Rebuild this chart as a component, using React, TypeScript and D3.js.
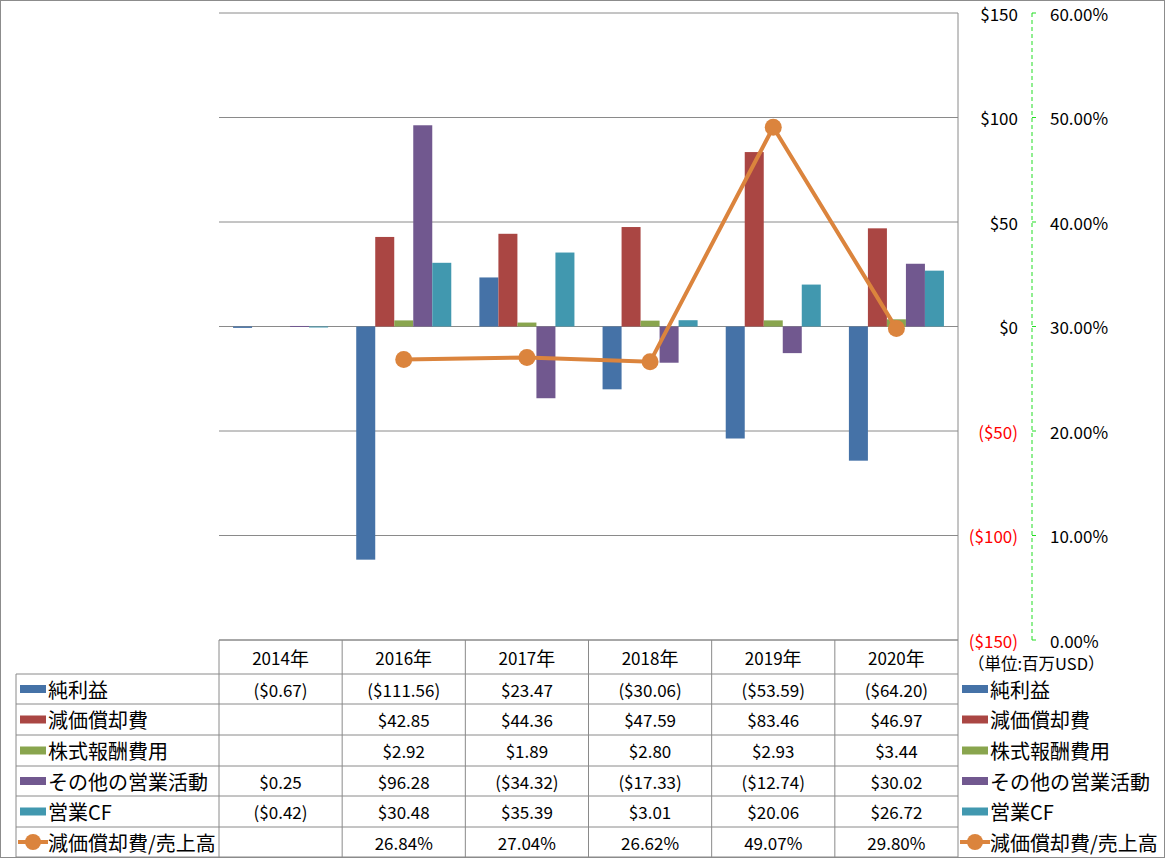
import React from 'react';
import * as d3 from 'd3';

const categories = ['2014年', '2016年', '2017年', '2018年', '2019年', '2020年'];
const seriesNames = ['純利益', '減価償却費', '株式報酬費用', 'その他の営業活動', '営業CF'];
const netIncome = [-0.67, -111.56, 23.47, -30.06, -53.59, -64.2];
const depreciation = [null, 42.85, 44.36, 47.59, 83.46, 46.97];
const stockComp = [null, 2.92, 1.89, 2.8, 2.93, 3.44];
const otherOps = [0.25, 96.28, -34.32, -17.33, -12.74, 30.02];
const operatingCF = [-0.42, 30.48, 35.39, 3.01, 20.06, 26.72];
const lineName = '減価償却費/売上高';
const deprRatio = [null, 26.84, 27.04, 26.62, 49.07, 29.8];
const leftTicks = [150, 100, 50, 0, -50, -100, -150];
const rightTicks = [60, 50, 40, 30, 20, 10, 0];
const unitLabel = '（単位:百万USD）';

const barSeries = [netIncome, depreciation, stockComp, otherOps, operatingCF];
const colors = ['#4572A7', '#AA4643', '#89A54E', '#71588F', '#4198AF'];
const lineColor = '#DB843D';

const W = 1165;
const H = 858;
const plotL = 219;
const plotR = 958;
const plotT = 13;
const plotB = 640;
const rowEdges = [640, 674, 704, 735, 766, 796, 827, 857];
const font = '"Noto Sans CJK JP", "Noto Sans", sans-serif';
const gridColor = '#8A8A8A';

const money = (v: number | null) => {
  if (v === null) return '';
  const s = '$' + Math.abs(v).toFixed(2);
  return v < 0 ? `(${s})` : s;
};

export default function App() {
  const x0 = d3.scaleBand<string>().domain(categories).range([plotL, plotR]).padding(0);
  const x1 = d3
    .scaleBand<string>()
    .domain(seriesNames)
    .range([0, x0.bandwidth()])
    .paddingInner(0)
    .paddingOuter(0.74);
  const y = d3.scaleLinear().domain([-150, 150]).range([plotB, plotT]);
  const y2 = d3.scaleLinear().domain([0, 60]).range([plotB, plotT]);

  const linePts = categories
    .map((c, i) => ({ c, v: deprRatio[i] }))
    .filter((d) => d.v !== null) as { c: string; v: number }[];
  const line = d3
    .line<{ c: string; v: number }>()
    .x((d) => (x0(d.c) as number) + x0.bandwidth() / 2)
    .y((d) => y2(d.v));

  const legendRows = [...seriesNames, lineName];
  const tableValues = [
    ...barSeries.map((s) => s.map(money)),
    deprRatio.map((v) => (v === null ? '' : v.toFixed(2) + '%')),
  ];

  const swatch = (i: number, xs: number, yc: number) =>
    i < 5 ? (
      <rect x={xs} y={yc - 4} width={26} height={8} fill={colors[i]} />
    ) : (
      <g>
        <line x1={xs - 2} x2={xs + 28} y1={yc} y2={yc} stroke={lineColor} strokeWidth={4} />
        <circle cx={xs + 13} cy={yc} r={8} fill={lineColor} />
      </g>
    );

  return (
    <div style={{ position: 'absolute', left: 0, top: 0 }}>
      <svg width={W} height={H} style={{ display: 'block', fontFamily: font }}>
        <rect x={0} y={0} width={W} height={H} fill="#fff" />
        <rect x={0.5} y={0.5} width={W - 1} height={H - 1} fill="none" stroke="#8C8C8C" />

        {/* gridlines */}
        {leftTicks.map((t) => (
          <line key={t} x1={plotL} x2={plotR} y1={y(t)} y2={y(t)} stroke={gridColor} strokeWidth={1} />
        ))}
        <line x1={plotR} x2={plotR} y1={plotT} y2={H} stroke={gridColor} />

        {/* bars */}
        {barSeries.map((s, si) =>
          s.map((v, ci) =>
            v === null ? null : (
              <rect
                key={`${si}-${ci}`}
                x={(x0(categories[ci]) as number) + (x1(seriesNames[si]) as number)}
                y={y(Math.max(0, v))}
                width={x1.bandwidth()}
                height={Math.max(1, Math.abs(y(v) - y(0)))}
                fill={colors[si]}
              />
            )
          )
        )}

        {/* line */}
        <path d={line(linePts) || ''} fill="none" stroke={lineColor} strokeWidth={4} />
        {linePts.map((d) => (
          <circle
            key={d.c}
            cx={(x0(d.c) as number) + x0.bandwidth() / 2}
            cy={y2(d.v)}
            r={8.5}
            fill={lineColor}
          />
        ))}

        {/* left axis labels */}
        {leftTicks.map((t) => (
          <text
            key={t}
            x={1018}
            y={y(t)}
            textAnchor="end"
            dominantBaseline="central"
            fontSize={17}
            fill={t < 0 ? '#FF0000' : '#000'}
          >
            {t < 0 ? `($${Math.abs(t)})` : `$${t}`}
          </text>
        ))}

        {/* right axis */}
        <line x1={1032} x2={1032} y1={plotT} y2={plotB} stroke="#22DD22" strokeDasharray="4,3" />
        {rightTicks.map((t) => (
          <g key={t}>
            <line x1={1032} x2={1036} y1={y2(t)} y2={y2(t)} stroke="#22DD22" />
            <text x={1050} y={y2(t)} dominantBaseline="central" fontSize={17} fill="#000">
              {t.toFixed(2) + '%'}
            </text>
          </g>
        ))}
        <text x={968} y={663} dominantBaseline="central" fontSize={16.5} fill="#000">
          {unitLabel}
        </text>

        {/* data table */}
        <line x1={plotL} x2={plotR} y1={rowEdges[0]} y2={rowEdges[0]} stroke={gridColor} />
        {rowEdges.slice(1).map((ry) => (
          <line key={ry} x1={16} x2={plotR} y1={ry} y2={ry} stroke={gridColor} />
        ))}
        <line x1={16} x2={16} y1={rowEdges[1]} y2={H} stroke={gridColor} />
        {categories.map((c) => (
          <line
            key={c}
            x1={x0(c) as number}
            x2={x0(c) as number}
            y1={rowEdges[0]}
            y2={H}
            stroke={gridColor}
          />
        ))}
        {categories.map((c) => (
          <text
            key={c}
            x={(x0(c) as number) + x0.bandwidth() / 2}
            y={(rowEdges[0] + rowEdges[1]) / 2}
            textAnchor="middle"
            dominantBaseline="central"
            fontSize={17}
          >
            {c.slice(0, -1)}
            <tspan fontSize={19}>{c.slice(-1)}</tspan>
          </text>
        ))}
        {legendRows.map((name, ri) => {
          const yc = (rowEdges[ri + 1] + rowEdges[ri + 2]) / 2;
          return (
            <g key={name}>
              {swatch(ri, 20, yc)}
              <text x={48} y={yc} dominantBaseline="central" fontSize={20}>
                {name}
              </text>
              {swatch(ri, 962, yc)}
              <text x={990} y={yc} dominantBaseline="central" fontSize={20}>
                {name}
              </text>
              {tableValues[ri].map((v, ci) => (
                <text
                  key={ci}
                  x={(x0(categories[ci]) as number) + x0.bandwidth() / 2}
                  y={yc}
                  textAnchor="middle"
                  dominantBaseline="central"
                  fontSize={17}
                >
                  {v}
                </text>
              ))}
            </g>
          );
        })}
      </svg>
    </div>
  );
}
